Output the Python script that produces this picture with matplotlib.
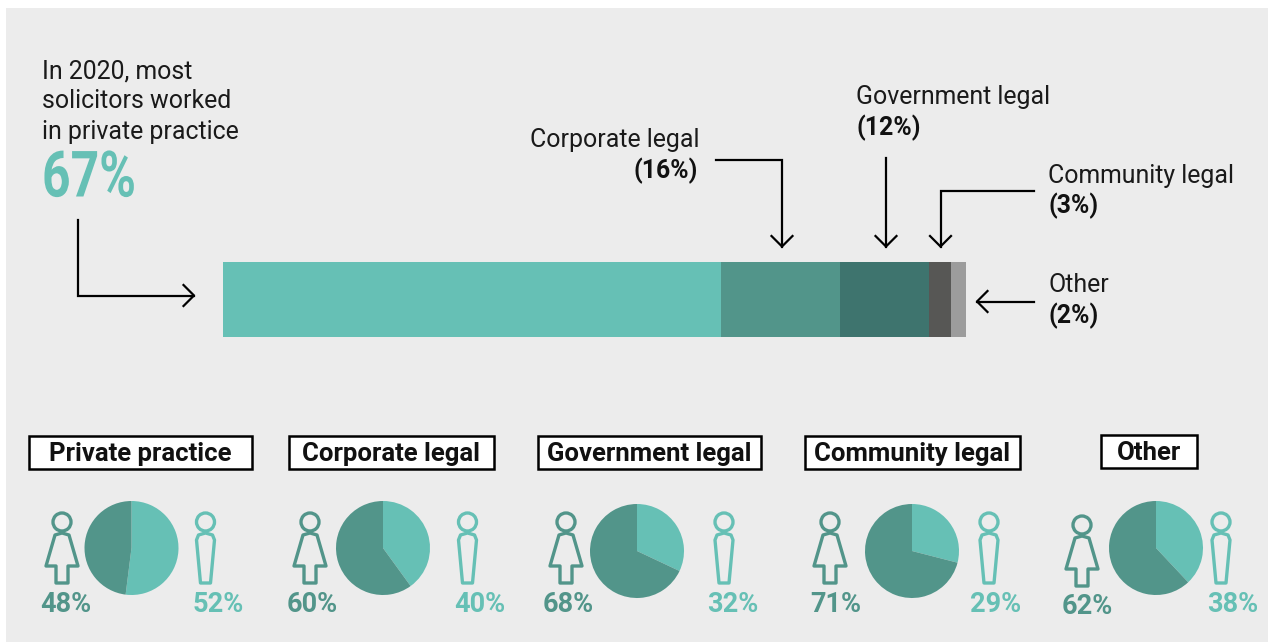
import matplotlib
matplotlib.use("Agg")
import matplotlib.pyplot as plt
import matplotlib.patheffects as pe
from matplotlib.patches import Polygon, Circle, Rectangle
from matplotlib.transforms import Affine2D

plt.rcParams['font.family'] = ['Roboto', 'DejaVu Sans']

W, H = 1268, 642

#Data
#--------------------------
sectors = ["Private practice", "Corporate legal", "Government legal", "Community legal", "Other"]
shares = [67, 16, 12, 3, 2]
women = [48, 60, 68, 71, 62]
men = [52, 40, 32, 29, 38]

#Styles and positions
#--------------------
bar_colors = ["#66c0b5", "#52958a", "#3e746e", "#575755", "#9c9c9c"]
woman_col = "#52958a"
man_col = "#66c0b5"
bg = "#ececec"
ink = "#1a1a1a"

box_x = [(29, 252), (289, 494), (538, 761), (805, 1020), (1101, 1197)]
box_y = [(436, 469), (436, 469), (436, 469), (436, 469), (435, 468)]
pie_xy = [(131.5, 548), (383, 548), (637, 551), (912, 551), (1156, 548)]
pie_r = 47
woman_xy = [(62, 522), (310, 522), (566, 522), (830, 522), (1082, 525)]
man_xy = [(205.5, 522), (467.5, 522), (724, 522), (989, 522), (1221, 522)]
woman_lab = [(66, 604), (312, 604), (568, 604), (836, 605), (1087, 606)]
man_lab = [(218, 604), (480, 604), (733, 605), (996, 605), (1233, 604)]

woman_body = [(0, 11), (-7, 13), (-16, 44), (-6, 44), (-6, 61), (6, 61), (6, 44), (16, 44), (7, 13)]
man_body = [(0, 11), (-7, 13), (-9, 18), (-5, 61), (5, 61), (9, 18), (7, 13)]


class Squeeze(pe.AbstractPathEffect):
    #narrows the glyphs around x0 (pixels), the text stays real text
    def __init__(self, x0, sx):
        super().__init__()
        self.x0 = x0
        self.sx = sx

    def draw_path(self, renderer, gc, tpath, affine, rgbFace=None):
        squeeze = Affine2D().translate(-self.x0, 0).scale(self.sx, 1).translate(self.x0, 0)
        renderer.draw_path(gc, tpath, affine + squeeze, rgbFace)


def px_axes(x0, y0, x1, y1):
    #axes placed by pixel box, y0 is the top edge
    return fig.add_axes([x0 / W, 1 - y1 / H, (x1 - x0) / W, (y1 - y0) / H])


def arrow(pts):
    xs, ys = zip(*pts)
    ax.plot(xs, ys, color="k", lw=1.6, solid_joinstyle="miter", zorder=4)
    (xa, ya), (xb, yb) = pts[-2], pts[-1]
    dx = (xb > xa) - (xb < xa)
    dy = (yb > ya) - (yb < ya)
    s = 10.5
    ax.plot([xb - dx * s - dy * s, xb, xb - dx * s + dy * s],
            [yb - dy * s - dx * s, yb, yb - dy * s + dx * s],
            color="k", lw=1.6, zorder=4)


def person(cx, cy, body, col):
    ax.add_patch(Circle((cx, cy), 9, fc="none", ec=col, lw=2.4))
    ax.add_patch(Polygon([(cx + a, cy + b) for a, b in body], closed=True,
                         fc="none", ec=col, lw=2.4, joinstyle="round"))


fig = plt.figure(figsize=(W / 100, H / 100), dpi=100, facecolor="white")
ax = fig.add_axes([0, 0, 1, 1])
ax.set_xlim(0, W)
ax.set_ylim(H, 0)
ax.axis("off")
ax.add_patch(Rectangle((6, 8), W, H, fc=bg, ec="none", zorder=0))

#Stacked bar
#-----------
bar_ax = px_axes(222.5, 262, 966, 337)
left = 0
for share, col in zip(shares, bar_colors):
    bar_ax.barh(0, share, left=left, height=1, color=col)
    left += share
bar_ax.set_xlim(0, 100)
bar_ax.set_ylim(-0.5, 0.5)
bar_ax.axis("off")

#Top labels
#----------
fs = 17.9
for y, line in zip([71, 101, 132], ["In 2020, most", "solicitors worked", "in private practice"]):
    ax.text(42, y, line, fontsize=fs, color=ink, va="center", ha="left")
big = ax.text(42, 179, "67%", fontsize=46, fontweight="bold", color=man_col, va="center", ha="left")
big.set_path_effects([Squeeze(42, 0.78)])

ax.text(700, 140, "Corporate legal", fontsize=fs, color=ink, va="center", ha="right")
ax.text(698, 171, "(16%)", fontsize=fs, fontweight="bold", color="#111111", va="center", ha="right")
ax.text(856, 97, "Government legal", fontsize=fs, color=ink, va="center", ha="left")
ax.text(856, 128, "(12%)", fontsize=fs, fontweight="bold", color="#111111", va="center", ha="left")
ax.text(1048, 176, "Community legal", fontsize=fs, color=ink, va="center", ha="left")
ax.text(1048, 206, "(3%)", fontsize=fs, fontweight="bold", color="#111111", va="center", ha="left")
ax.text(1048, 285, "Other", fontsize=fs, color=ink, va="center", ha="left")
ax.text(1048, 316, "(2%)", fontsize=fs, fontweight="bold", color="#111111", va="center", ha="left")

arrow([(77.5, 220), (77.5, 295.5), (194, 295.5)])
arrow([(716, 160), (782, 160), (782, 246.5)])
arrow([(886, 158), (886, 246.5)])
arrow([(1034, 191), (940.5, 191), (940.5, 246.5)])
arrow([(1034, 301.5), (977, 301.5)])

#Sector boxes, pies and people
#-----------------------------
for i, name in enumerate(sectors):
    x0, x1 = box_x[i]
    y0, y1 = box_y[i]
    ax.add_patch(Rectangle((x0, y0), x1 - x0, y1 - y0, fc="white", ec="k", lw=1.8, zorder=2))
    ax.text((x0 + x1) / 2, (y0 + y1) / 2 + 2, name, fontsize=18.5, fontweight="bold", color="#111111",
            va="center", ha="center", zorder=3)

    cx, cy = pie_xy[i]
    pie_ax = px_axes(cx - pie_r, cy - pie_r, cx + pie_r, cy + pie_r)
    pie_ax.pie([men[i], women[i]], colors=[man_col, woman_col], startangle=90,
               counterclock=False, radius=1)
    pie_ax.set_xlim(-1, 1)
    pie_ax.set_ylim(-1, 1)

    person(*woman_xy[i], woman_body, woman_col)
    person(*man_xy[i], man_body, man_col)
    ax.text(*woman_lab[i], f"{women[i]}%", fontsize=19.5, fontweight="bold", color=woman_col,
            va="center", ha="center")
    ax.text(*man_lab[i], f"{men[i]}%", fontsize=19.5, fontweight="bold", color=man_col,
            va="center", ha="center")

fig.savefig("out.png", dpi=100)
